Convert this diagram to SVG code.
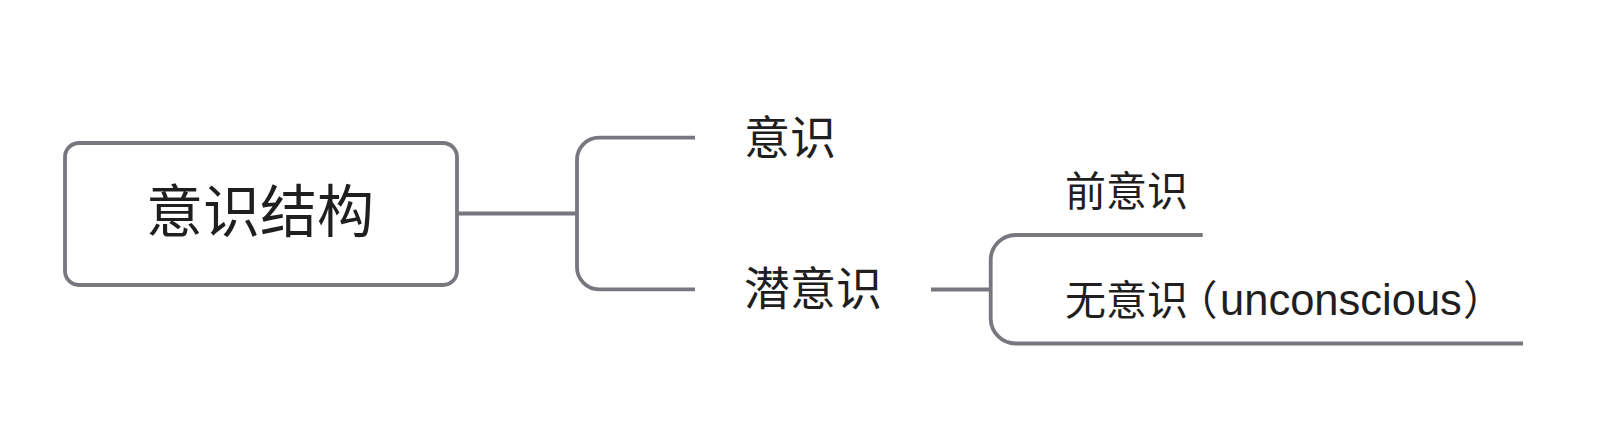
<svg xmlns="http://www.w3.org/2000/svg" width="1620" height="448" viewBox="0 0 1620 448">
  <style>
    .line { fill: none; stroke: #77777d; stroke-width: 3.8; }
    .box { fill: #ffffff; stroke: #77777d; stroke-width: 3.8; }
    .t { fill: #1f1f1f; font-family: "Liberation Sans", "Noto Sans CJK SC", sans-serif; }
    .p { font-feature-settings: "halt" 1; }
  </style>
  <rect width="1620" height="448" fill="#ffffff"/>
  <g id="connectors">
    <path class="line" d="M 457 213.5 H 577"/>
    <path class="line" d="M 695 137.7 H 599 A 22 22 0 0 0 577 159.7 V 267.3 A 22 22 0 0 0 599 289.3 H 695"/>
    <path class="line" d="M 931 289.5 H 990.7"/>
    <path class="line" d="M 1202.7 235 H 1015.7 A 25 25 0 0 0 990.7 260 V 318.5 A 25 25 0 0 0 1015.7 343.5 H 1523"/>
  </g>
  <g id="root">
    <rect class="box" x="65" y="143" width="392" height="142" rx="14" ry="14"/>
    <text class="t" x="260" y="232" font-size="57" text-anchor="middle">意识结构</text>
  </g>
  <g id="node-conscious">
    <text class="t" x="744" y="153.5" font-size="46">意识</text>
  </g>
  <g id="node-subconscious">
    <text class="t" x="744" y="304.8" font-size="46">潜意识</text>
  </g>
  <g id="node-preconscious">
    <text class="t" x="1065" y="206.4" font-size="41">前意识</text>
  </g>
  <g id="node-unconscious">
    <text class="t" x="1065" y="315.3" font-size="41">无意识<tspan class="p" x="1197">（</tspan><tspan x="1220" font-size="43.5">unconscious</tspan><tspan class="p" x="1463">）</tspan></text>
  </g>
</svg>
